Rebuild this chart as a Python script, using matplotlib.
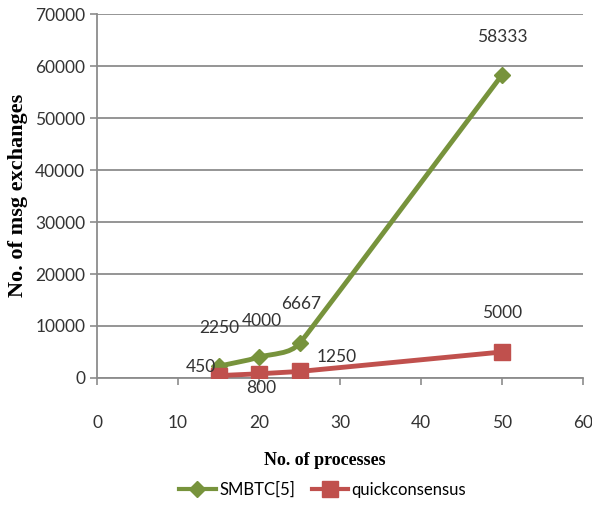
import numpy as np
import matplotlib.pyplot as plt
from matplotlib.path import Path
from matplotlib.patches import PathPatch
from matplotlib.lines import Line2D

processes = [15, 20, 25, 50]
smbtc = [2250, 4000, 6667, 58333]
quick = [450, 800, 1250, 5000]

green = "#77933C"
red = "#C0504D"

ax_rect = [0.164, 0.256, 0.821, 0.716]
fig_w, fig_h = 592, 508
x_max, y_max = 60, 70000


def smooth_path(xs, ys, k=0.35):
    # cubic bezier through the points, like a spreadsheet "smoothed line";
    # tangents follow the neighbours, handles follow the shorter adjacent
    # segment, worked out in screen proportions and mapped back to data units
    sx = ax_rect[2] * fig_w / x_max
    sy = ax_rect[3] * fig_h / y_max
    pts = np.column_stack([np.array(xs) * sx, np.array(ys) * sy]).astype(float)
    n = len(pts)
    segs = [np.hypot(*(pts[i + 1] - pts[i])) for i in range(n - 1)]

    def tangent(i):
        a = pts[max(i - 1, 0)]
        b = pts[min(i + 1, n - 1)]
        d = b - a
        return d / np.hypot(*d)

    def handle(i):
        near = [segs[j] for j in (i - 1, i) if 0 <= j < n - 1]
        return k * min(near)

    verts = [pts[0]]
    codes = [Path.MOVETO]
    for i in range(n - 1):
        p1, p2 = pts[i], pts[i + 1]
        c1 = p1 + tangent(i) * handle(i)
        c2 = p2 - tangent(i + 1) * handle(i + 1)
        verts += [c1, c2, p2]
        codes += [Path.CURVE4] * 3
    verts = np.array(verts) / [sx, sy]
    return Path(verts, codes)


fig = plt.figure(figsize=(fig_w / 100, fig_h / 100), dpi=100)
ax = fig.add_axes(ax_rect)

ax.set_xlim(0, x_max)
ax.set_ylim(0, y_max)
ax.set_xticks(range(0, 61, 10))
ax.set_yticks(range(0, 70001, 10000))
ax.grid(axis="y", color="#8c8c8c", linewidth=1.3)
ax.set_axisbelow(True)

for s in ["top", "right"]:
    ax.spines[s].set_visible(False)
ax.spines["left"].set_color("#8c8c8c")
ax.spines["bottom"].set_color("#8c8c8c")
ax.spines["left"].set_linewidth(1.3)
ax.spines["bottom"].set_linewidth(1.3)
ax.tick_params(axis="both", colors="#8c8c8c", labelcolor="#333333",
               labelsize=12.5, length=5, width=1.2)
ax.tick_params(axis="x", pad=22)
for lab in ax.get_xticklabels() + ax.get_yticklabels():
    lab.set_family("Lato")

# SMBTC drawn as a smoothed curve, quickconsensus as straight segments
ax.add_patch(PathPatch(smooth_path(processes, smbtc), facecolor="none",
                       edgecolor=green, linewidth=3.5, zorder=3))
ax.plot(processes, smbtc, linestyle="none", marker="D", markersize=8,
        color=green, zorder=4)
ax.plot(processes, quick, color=red, linewidth=3.5, marker="s",
        markersize=11, zorder=5)

# value labels
lbl = dict(fontsize=12.5, family="Lato", color="#333333", zorder=6,
           va="center")
ax.text(15.1, 9600, str(smbtc[0]), ha="center", **lbl)
ax.text(20.3, 11000, str(smbtc[1]), ha="center", **lbl)
ax.text(25.2, 14200, str(smbtc[2]), ha="center", **lbl)
ax.text(50, 65600, str(smbtc[3]), ha="center", **lbl)
ax.text(14.7, 2200, str(quick[0]), ha="right", **lbl)
ax.text(20.2, -1900, str(quick[1]), ha="center", **lbl)
ax.text(27.1, 4100, str(quick[2]), ha="left", **lbl)
ax.text(50, 12500, str(quick[3]), ha="center", **lbl)

fig.text(0.548, 0.094, "No. of processes", ha="center", va="center",
         fontsize=13, fontweight="bold", family="Liberation Serif")
fig.text(0.030, 0.616, "No. of msg exchanges", ha="center", va="center",
         rotation=90, fontsize=16, fontweight="bold",
         family="Liberation Serif")

handles = [
    Line2D([], [], color=green, linewidth=3, marker="D", markersize=8),
    Line2D([], [], color=red, linewidth=3, marker="s", markersize=11),
]
fig.legend(handles, ["SMBTC[5]", "quickconsensus"], loc="center",
           bbox_to_anchor=(0.545, 0.036), ncol=2, frameon=False,
           prop={"family": "Lato", "size": 12}, handlelength=2.2,
           columnspacing=1.0, handletextpad=0.2)

fig.savefig("out.png", dpi=100)
